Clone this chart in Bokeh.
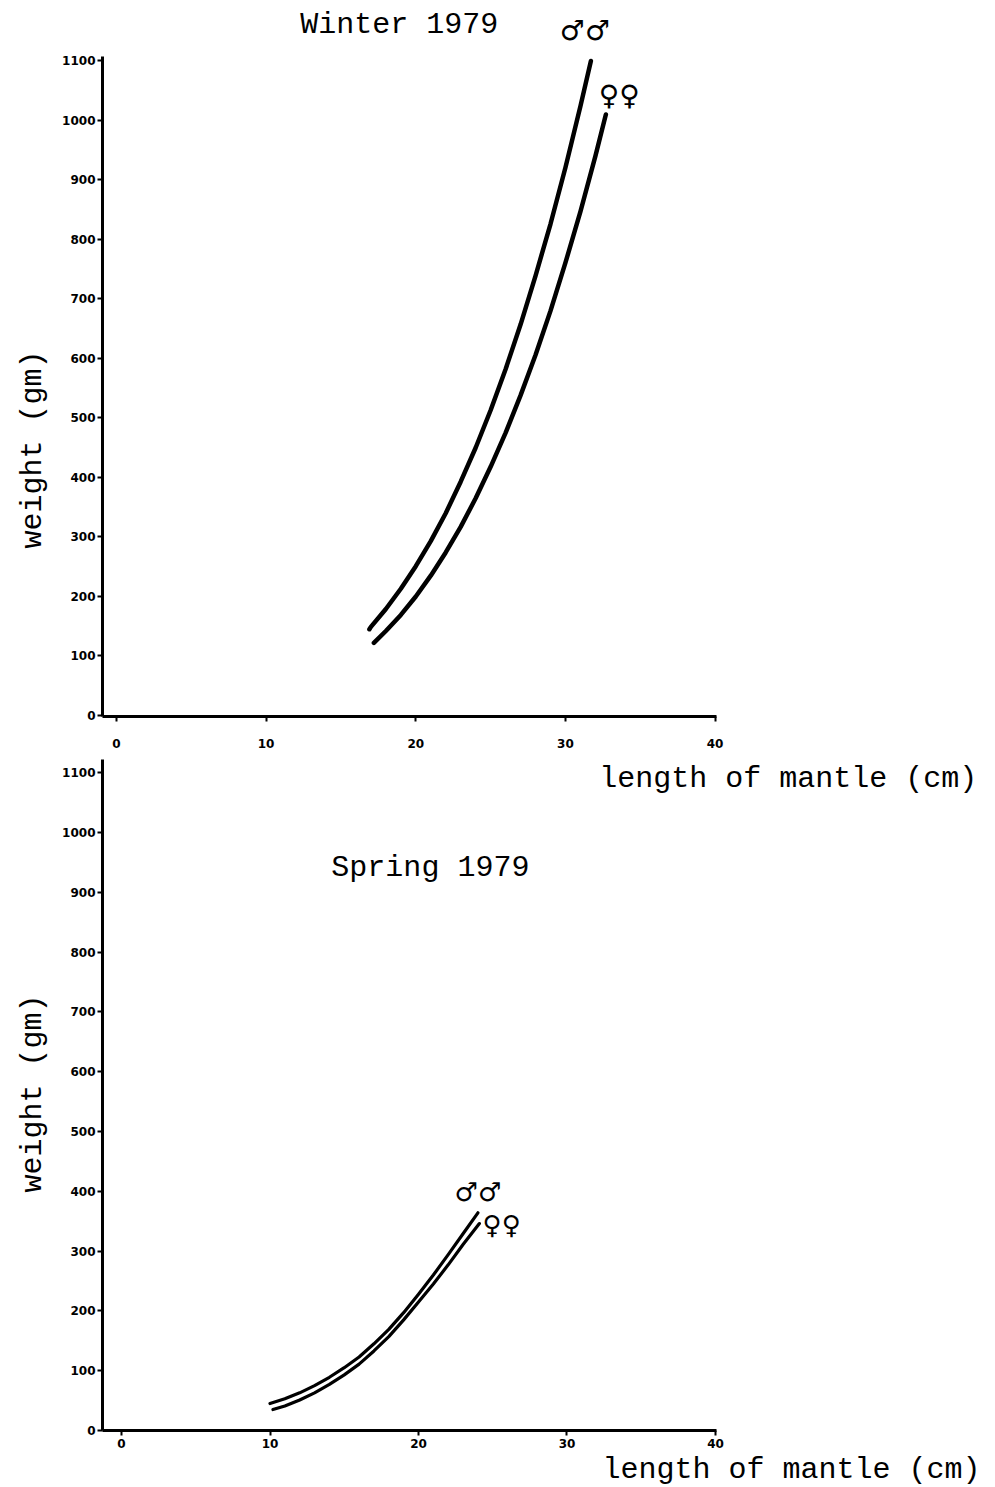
from bokeh.plotting import figure
from bokeh.models import Label, FixedTicker, Range1d, Title
from bokeh.layouts import column
from bokeh.embed import file_html
from bokeh.resources import INLINE

# ---------------- data ----------------
x_ticks = [0, 10, 20, 30, 40]
y_ticks = [0, 100, 200, 300, 400, 500, 600, 700, 800, 900, 1000, 1100]

# Winter 1979 (length of mantle cm, weight gm)
winter_male_len = [16.9, 17, 18, 19, 20, 21, 22, 23, 24, 25, 26, 27, 28, 29, 30, 31, 31.7]
winter_male_wt = [145, 149, 179, 213, 251, 293, 340, 393, 450, 513, 582, 657, 739, 826, 921, 1024, 1100]
winter_female_len = [17.2, 18, 19, 20, 21, 22, 23, 24, 25, 26, 27, 28, 29, 30, 31, 32, 32.7]
winter_female_wt = [122, 142, 169, 200, 235, 274, 317, 365, 418, 475, 538, 606, 680, 761, 847, 940, 1010]

# Spring 1979
spring_male_len = [10.0, 11, 12, 13, 14, 15, 16, 17, 18, 19, 20, 21, 22, 23, 24.0]
spring_male_wt = [45, 53, 63, 75, 89, 105, 123, 145, 169, 197, 228, 260, 294, 329, 364]
spring_female_len = [10.2, 11, 12, 13, 14, 15, 16, 17, 18, 19, 20, 21, 22, 23, 24.1]
spring_female_wt = [35, 41, 51, 63, 77, 93, 111, 133, 157, 185, 215, 245, 277, 311, 346]

MONO = "Liberation Mono"
W = 995


def style(p, standoff_x):
    p.grid.visible = False
    p.outline_line_color = None
    p.background_fill_color = "white"
    p.border_fill_color = "white"
    for ax in (p.xaxis[0], p.yaxis[0]):
        ax.axis_line_width = 3
        ax.axis_line_color = "black"
        ax.major_tick_line_width = 2
        ax.major_tick_out = 5
        ax.major_tick_in = 0
        ax.minor_tick_out = 0
        ax.minor_tick_in = 0
        ax.major_label_text_font = "DejaVu Sans"
        ax.major_label_text_font_style = "bold"
        ax.major_label_text_font_size = "12px"
        ax.major_label_text_color = "black"
    p.xaxis[0].ticker = FixedTicker(ticks=x_ticks)
    p.yaxis[0].ticker = FixedTicker(ticks=y_ticks)
    p.xaxis[0].major_label_standoff = standoff_x
    p.yaxis[0].major_label_standoff = 2


def side_title(p, text, side, align, offset, standoff):
    t = Title(text=text, align=align, offset=offset, standoff=standoff,
              text_font=MONO, text_font_size="30px", text_font_style="normal",
              text_color="black")
    p.add_layout(t, side)


def lab(p, x, y, text, size="30px", font=MONO):
    p.add_layout(Label(x=x, y=y, text=text, text_font=font, text_font_size=size,
                       text_align="center", text_baseline="middle",
                       text_color="black"))


# ---------------- top panel: Winter 1979 ----------------
top = figure(width=W, height=754, x_range=Range1d(-0.933, 58.4), y_range=Range1d(-1.68, 1198.3),
             output_backend="svg", toolbar_location=None,
             min_border_left=100, min_border_right=5, min_border_top=2, min_border_bottom=38)
style(top, 17)
top.xaxis[0].bounds = (-0.933, 40.1)
top.yaxis[0].bounds = (-1.68, 1108)
side_title(top, "weight (gm)", "left", "left", 168, 20)

top.line(winter_male_len, winter_male_wt, line_width=4.5, line_color="black",
         line_cap="round", line_join="round")
top.line(winter_female_len, winter_female_wt, line_width=4.5, line_color="black",
         line_cap="round", line_join="round")

lab(top, 18.9, 1161, "Winter 1979")
lab(top, 31.3, 1151, "\u2642\u2642", size="28px", font="DejaVu Sans")
lab(top, 33.6, 1042, "\u2640\u2640", size="28px", font="DejaVu Sans")

# ---------------- bottom panel: Spring 1979 ----------------
bot = figure(width=W, height=733, x_range=Range1d(-1.28, 58.52), y_range=Range1d(0, 1127),
             output_backend="svg", toolbar_location=None,
             min_border_left=102, min_border_right=5, min_border_top=2, min_border_bottom=57)
style(bot, 3)
bot.xaxis[0].bounds = (-1.28, 40.1)
bot.yaxis[0].bounds = (0, 1122)
side_title(bot, "weight (gm)", "left", "center", 0, 20)
side_title(bot, "length of mantle (cm)", "below", "right", 10, 0)

bot.line(spring_male_len, spring_male_wt, line_width=3.2, line_color="black",
         line_cap="round", line_join="round")
bot.line(spring_female_len, spring_female_wt, line_width=3.2, line_color="black",
         line_cap="round", line_join="round")

lab(bot, 20.8, 940, "Spring 1979")
lab(bot, 24.0, 398, "\u2642\u2642", size="26px", font="DejaVu Sans")
lab(bot, 25.6, 343, "\u2640\u2640", size="26px", font="DejaVu Sans")
# x-axis title of the winter panel, sitting in the gap just below it
lab(bot, 44.9, 1090, "length of mantle (cm)")

layout = column(top, bot, spacing=0)
open("out.html", "w").write(file_html(layout, INLINE))
